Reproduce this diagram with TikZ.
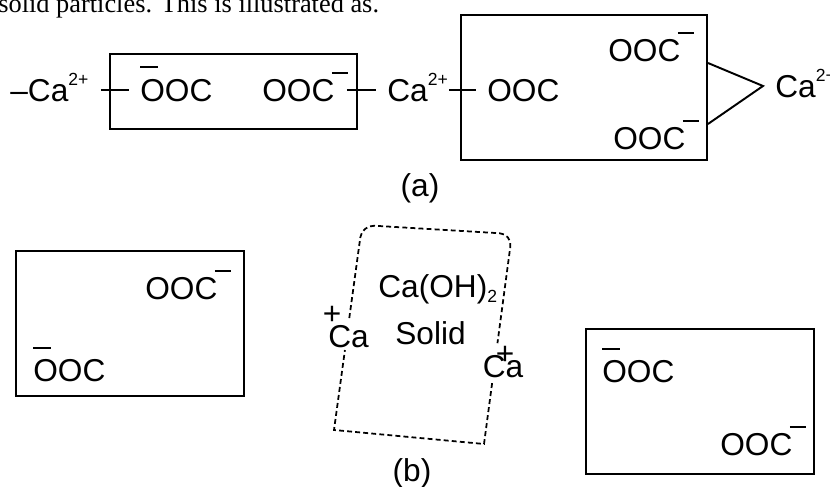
\documentclass[tikz,border=0pt]{standalone}
\usepackage{fontspec}
\setmainfont{Liberation Sans}
\newfontfamily\notefont{Liberation Serif}
\usetikzlibrary{calc}
\newcommand{\sups}[1]{\raisebox{9pt}{\fontsize{10}{10}\selectfont #1}}
\newcommand{\subs}[1]{\raisebox{-3pt}{\fontsize{10}{10}\selectfont #1}}

\begin{document}
\begin{tikzpicture}[
  txt/.style={font=\fontsize{18}{21}\selectfont, inner sep=0pt, text height=12.9pt, text depth=0pt},
  box/.style={draw, line width=1.1pt, inner sep=0pt},
  bond/.style={line width=1.1pt, shorten <=0.24cm, shorten >=0.22cm},
  bar/.style={line width=1.1pt},
  grain/.style={line width=1pt, dash pattern=on 2.8pt off 1.8pt}
]
\useasboundingbox (0,0) rectangle (16.6,-9.74);
\clip (0,0) rectangle (16.6,-9.74);

% --- running text, cut by the page edge ---
\node[font=\notefont\fontsize{15}{18}\selectfont, anchor=base west, inner sep=0pt] (note) at (-0.04,-0.26) {solid particles. This is illustrated as.};

% --- (a) chain of salts ---
\node[box, minimum width=4.94cm, minimum height=1.5cm] (box1) at (4.67,-1.83) {};
\node[box, minimum width=4.92cm, minimum height=2.9cm] (box2) at (11.68,-1.75) {};
\node[txt, anchor=west] (caL) at (0.20,-1.80) {–Ca\sups{2+}};
\node[txt, anchor=west] (ooc1) at (2.80,-1.80) {OOC};
\node[txt, anchor=west] (ooc2) at (5.24,-1.80) {OOC};
\node[txt, anchor=west] (caM) at (7.74,-1.80) {Ca\sups{2+}};
\node[txt, anchor=west] (ooc3) at (9.74,-1.80) {OOC};
\node[txt, anchor=west] (ooc4) at (12.16,-1.01) {OOC};
\node[txt, anchor=west] (ooc5) at (12.26,-2.77) {OOC};
\node[txt, anchor=west] (caR) at (15.50,-1.72) {Ca\sups{2+}};
\node[txt] (capA) at (8.40,-3.70) {(a)};

\draw[bond] (caL.east) -- (ooc1.west);
\draw[bond] (ooc2.east) -- (caM.west);
\draw[bond, shorten <=0.02cm] (caM.east) -- (ooc3.west);
\coordinate (tip) at ([xshift=-0.24cm]caR.west);
\draw[line width=1.1pt] ([yshift=0.49cm]box2.east) -- (tip) -- ([yshift=-0.73cm]box2.east);

% --- (b) separated particles ---
\node[box, minimum width=4.56cm, minimum height=2.9cm] (box3) at (2.60,-6.47) {};
\node[box, minimum width=4.56cm, minimum height=2.9cm] (box4) at (14.00,-8.03) {};
\node[txt, anchor=west] (ooc6) at (2.90,-5.77) {OOC};
\node[txt, anchor=west] (ooc7) at (0.66,-7.41) {OOC};
\node[txt, anchor=west] (ooc8) at (12.04,-7.43) {OOC};
\node[txt, anchor=west] (ooc9) at (14.40,-8.89) {OOC};

% Ca(OH)2 grain
\coordinate (gBL) at (6.68,-8.60);
\coordinate (gTL) at (7.24,-4.50);
\coordinate (gTR) at (10.24,-4.68);
\coordinate (gBR) at (9.68,-8.88);
\coordinate (gp1) at ($(gBL)!0.39!(gTL)$);
\coordinate (gp2) at ($(gBL)!0.546!(gTL)$);
\coordinate (gq1) at ($(gBR)!0.29!(gTR)$);
\coordinate (gq2) at ($(gBR)!0.48!(gTR)$);
\draw[grain] (gq1) -- (gBR) -- (gBL) -- (gp1);
\draw[grain, rounded corners=0.25cm] (gp2) -- (gTL) -- (gTR) -- (gq2);

\node[txt, anchor=west] (hyd) at (7.56,-5.72) {Ca(OH)\subs{2}};
\node[txt, anchor=west] (sol) at (7.90,-6.67) {Solid};
\node[txt] (caP) at (6.97,-6.72) {Ca};
\node[txt] (caQ) at (10.06,-7.33) {Ca};
\node[txt] (plP) at (6.64,-6.26) {+};
\node[txt] (plQ) at (10.10,-7.06) {+};
\node[txt] (capB) at (8.24,-9.40) {(b)};

% charge bars
\foreach \n in {ooc1,ooc7,ooc8}
  \draw[bar] ([yshift=0.22cm]\n.north west) -- ++(0.36,0);
\foreach \n in {ooc2,ooc4,ooc5,ooc6,ooc9}
  \draw[bar] ([xshift=-0.06cm,yshift=0.11cm]\n.north east) -- ++(0.32,0);
\end{tikzpicture}
\end{document}
